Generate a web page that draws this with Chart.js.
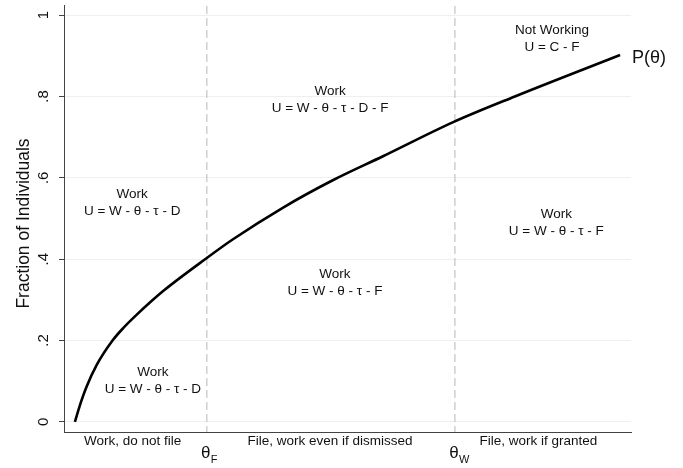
<!doctype html>
<html>
<head>
<meta charset="utf-8">
<script src="https://cdn.jsdelivr.net/npm/chart.js@4.4.1/dist/chart.umd.min.js"></script>
<style>
	body { margin: 0; background: #fff; }
	#wrap { width: 683px; height: 468px; position: relative; }
</style>
</head>
<body>
<div id="wrap"><canvas id="myChart"></canvas></div>
<script>
// curve P(theta)
var thetaVals = [0, 0.009, 0.021, 0.040, 0.069, 0.089, 0.113, 0.138, 0.163, 0.242, 0.290, 0.382, 0.473, 0.565, 0.694, 0.807, 1.0];
var pVals     = [0, 0.040, 0.085, 0.140, 0.200, 0.231, 0.263, 0.294, 0.323, 0.403, 0.449, 0.527, 0.594, 0.653, 0.737, 0.800, 0.902];

var yTicks = [0, 0.2, 0.4, 0.6, 0.8, 1];
var yTickLabels = ['0', '.2', '.4', '.6', '.8', '1'];

// cut-offs theta_F and theta_W
var thresholds = [0.242, 0.697];
var thresholdSubs = ['F', 'W'];

// what goes below the x axis
var segmentLabels = ['Work, do not file', 'File, work even if dismissed', 'File, work if granted'];
var segmentCenters = [0.106, 0.468, 0.85];

// notes inside the plot
var notes = [
	{ x: 0.105, y: 0.560, lines: ['Work', 'U = W - θ - τ - D'] },
	{ x: 0.143, y: 0.121, lines: ['Work', 'U = W - θ - τ - D'] },
	{ x: 0.468, y: 0.813, lines: ['Work', 'U = W - θ - τ - D - F'] },
	{ x: 0.477, y: 0.363, lines: ['Work', 'U = W - θ - τ - F'] },
	{ x: 0.883, y: 0.510, lines: ['Work', 'U = W - θ - τ - F'] },
	{ x: 0.875, y: 0.963, lines: ['Not Working', 'U = C - F'] }
];

var FONT = '"Liberation Sans", Arial, Helvetica, sans-serif';

var curve = thetaVals.map(function (t, i) { return { x: t, y: pVals[i] }; });

var dashSets = thresholds.map(function (t) {
	return {
		data: [{ x: t, y: -0.03 }, { x: t, y: 1.03 }],
		borderColor: '#c4c4c4',
		borderWidth: 1.2,
		borderDash: [8, 4],
		pointRadius: 0,
		fill: false
	};
});

var textPlugin = {
	id: 'texts',
	afterDraw: function (chart) {
		var ctx = chart.ctx;
		var xs = chart.scales.x, ys = chart.scales.y;
		var area = chart.chartArea;
		ctx.save();
		ctx.fillStyle = '#111';
		ctx.textAlign = 'center';
		ctx.textBaseline = 'middle';

		// notes
		ctx.font = '13.5px ' + FONT;
		notes.forEach(function (n) {
			var px = xs.getPixelForValue(n.x), py = ys.getPixelForValue(n.y);
			n.lines.forEach(function (l, i) { ctx.fillText(l, px, py + i * 17); });
		});

		// segment labels under axis
		segmentLabels.forEach(function (s, i) {
			ctx.fillText(s, xs.getPixelForValue(segmentCenters[i]), area.bottom + 9);
		});

		// theta_F, theta_W
		thresholds.forEach(function (t, i) {
			var px = xs.getPixelForValue(t);
			ctx.font = '17px ' + FONT;
			ctx.textAlign = 'center';
			ctx.fillText('θ', px - 1, area.bottom + 21);
			ctx.font = '11px ' + FONT;
			ctx.textAlign = 'left';
			ctx.fillText(thresholdSubs[i], px + 4, area.bottom + 28);
		});

		// P(theta) at end of curve
		ctx.font = '18px ' + FONT;
		ctx.textAlign = 'left';
		var last = curve[curve.length - 1];
		ctx.fillText('P(θ)', xs.getPixelForValue(last.x) + 12, ys.getPixelForValue(last.y) + 3);

		// y tick labels, turned
		ctx.font = '15px ' + FONT;
		ctx.textAlign = 'center';
		yTicks.forEach(function (v, i) {
			ctx.save();
			ctx.translate(area.left - 20, ys.getPixelForValue(v));
			ctx.rotate(-Math.PI / 2);
			ctx.fillText(yTickLabels[i], 0, 0);
			ctx.restore();
		});

		// y title
		ctx.font = '17.5px ' + FONT;
		ctx.save();
		ctx.translate(24, (area.top + area.bottom) / 2 + 5);
		ctx.rotate(-Math.PI / 2);
		ctx.fillText('Fraction of Individuals', 0, 0);
		ctx.restore();

		ctx.restore();
	}
};

new Chart(document.getElementById('myChart'), {
	type: 'line',
	data: {
		datasets: [{
			data: curve,
			borderColor: '#000',
			borderWidth: 2.6,
			pointRadius: 0,
			fill: false,
			cubicInterpolationMode: 'monotone'
		}].concat(dashSets)
	},
	options: {
		responsive: true,
		maintainAspectRatio: false,
		animation: false,
		events: [],
		layout: { padding: { top: 5, right: 52, bottom: 0, left: 0 } },
		plugins: { legend: { display: false }, tooltip: { enabled: false } },
		scales: {
			x: {
				type: 'linear',
				min: -0.02,
				max: 1.02,
				grid: { display: false },
				border: { color: '#444', width: 1 },
				ticks: { display: false },
				afterFit: function (s) { s.height = 36; }
			},
			y: {
				type: 'linear',
				min: -0.025,
				max: 1.025,
				afterBuildTicks: function (s) { s.ticks = yTicks.map(function (v) { return { value: v }; }); },
				grid: { color: '#e9f1f2', tickColor: '#444', tickLength: 5, lineWidth: 1 },
				border: { color: '#444', width: 1 },
				ticks: { display: false },
				afterFit: function (s) { s.width = 64; }
			}
		}
	},
	plugins: [textPlugin]
});
</script>
</body>
</html>
